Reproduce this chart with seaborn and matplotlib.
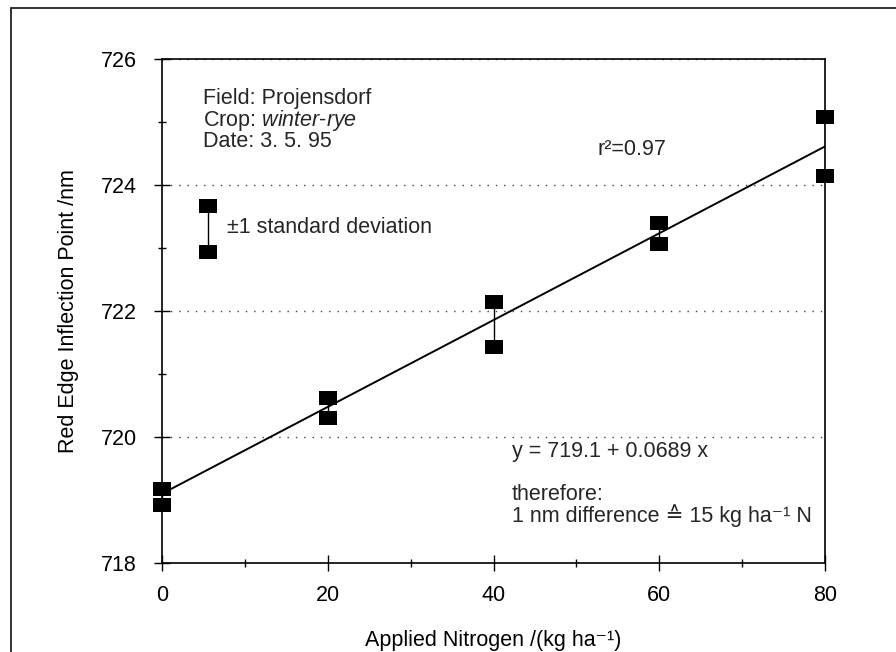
import matplotlib
matplotlib.use("Agg")
import matplotlib.pyplot as plt
import seaborn as sns
import numpy as np
import pandas as pd
from matplotlib.patches import Rectangle
from matplotlib.ticker import MultipleLocator

# ---- data ----
nitrogen = [0, 20, 40, 60, 80]
rep_upper = [719.18, 720.62, 722.15, 723.40, 725.08]
rep_lower = [718.92, 720.30, 721.43, 723.07, 724.14]
intercept = 719.1
slope = 0.0689
legend_bar_x = [5.5]
legend_bar_upper = [723.66]
legend_bar_lower = [722.94]
x_ticks = [0, 20, 40, 60, 80]
y_ticks = [718, 720, 722, 724, 726]

sns.set_theme(style="white")
plt.rcParams["font.family"] = ["Liberation Sans", "DejaVu Sans"]
plt.rcParams["mathtext.fontset"] = "custom"
plt.rcParams["mathtext.rm"] = "Liberation Sans"
plt.rcParams["mathtext.it"] = "Liberation Sans:italic"

fig = plt.figure(figsize=(8.96, 6.52), dpi=100)
fig.patch.set_facecolor("white")
ax = fig.add_axes([162 / 896, 1 - 563 / 652, 663 / 896, (563 - 59) / 652])

df = pd.DataFrame({
    "N": nitrogen * 2,
    "REIP": rep_upper + rep_lower,
})
leg = pd.DataFrame({"N": legend_bar_x * 2, "REIP": legend_bar_upper + legend_bar_lower})

# error connectors
ax.vlines(nitrogen, rep_lower, rep_upper, color="black", lw=1.0, zorder=2)
ax.vlines(legend_bar_x, legend_bar_lower, legend_bar_upper, color="black", lw=1.0, zorder=2)

# regression line
xs = np.array([min(nitrogen), max(nitrogen)], dtype=float)
line_df = pd.DataFrame({"N": xs, "REIP": intercept + slope * xs})
sns.lineplot(data=line_df, x="N", y="REIP", color="black", lw=1.4, ax=ax, zorder=3)

rect_marker = [(-1.25, -1), (1.25, -1), (1.25, 1), (-1.25, 1), (-1.25, -1)]
sns.scatterplot(data=df, x="N", y="REIP", marker=rect_marker, s=150, color="black",
                edgecolor="black", linewidth=0, ax=ax, zorder=4, clip_on=False)
sns.scatterplot(data=leg, x="N", y="REIP", marker=rect_marker, s=150, color="black",
                edgecolor="black", linewidth=0, ax=ax, zorder=4)

ax.set_xlim(0, 80)
ax.set_ylim(718, 726)
ax.set_xticks(x_ticks)
ax.set_yticks(y_ticks)
ax.xaxis.set_minor_locator(MultipleLocator(10))
ax.yaxis.set_minor_locator(MultipleLocator(1))
ax.tick_params(axis="both", which="major", direction="inout", length=12, width=1.0,
               color="black", labelsize=15.5, labelcolor="black")
ax.tick_params(axis="both", which="minor", direction="inout", length=6, width=1.0, color="black")
ax.tick_params(axis="x", which="both", bottom=True, top=False, pad=10)
ax.tick_params(axis="y", which="both", left=True, right=False, pad=12)

for sp in ax.spines.values():
    sp.set_color("black")
    sp.set_linewidth(1.2)

ax.yaxis.grid(True, which="major", linestyle=(0, (1, 5)), color="#444444", lw=1.0)
ax.xaxis.grid(False)
ax.set_axisbelow(True)

ax.set_xlabel("Applied Nitrogen /(kg ha\u207b\u00b9)", fontsize=15.5, labelpad=17, color="black")
ax.set_ylabel("Red Edge Inflection Point /nm", fontsize=15.5, labelpad=16, color="black")

fs = 15.5
ax.text(4.95, 725.38, "Field: Projensdorf", fontsize=fs, va="center", ha="left")
ax.text(4.95, 725.03, r"Crop: $\mathit{winter}$-$\mathit{rye}$", fontsize=fs, va="center", ha="left")
ax.text(4.95, 724.69, "Date: 3. 5. 95", fontsize=fs, va="center", ha="left")
ax.text(52.6, 724.56, "r\u00b2=0.97", fontsize=fs, va="center", ha="left")
ax.text(7.8, 723.32, "\u00b11 standard deviation", fontsize=fs, va="center", ha="left")
ax.text(42.2, 719.77, "y = 719.1 + 0.0689 x", fontsize=fs, va="center", ha="left")
ax.text(42.2, 718.92, "therefore:\n1 nm difference \u2259 15 kg ha\u207b\u00b9 N", fontsize=fs,
        va="center", ha="left", linespacing=0.95, family=["Liberation Sans", "DejaVu Sans"])

# outer frame of the figure
fig.patches.append(Rectangle((11 / 896, -0.05), 1.05, 1 - 8 / 652 + 0.05, transform=fig.transFigure,
                             fill=False, edgecolor="#222222", lw=1.3, zorder=0))

fig.savefig("out.png", dpi=100, facecolor="white")
